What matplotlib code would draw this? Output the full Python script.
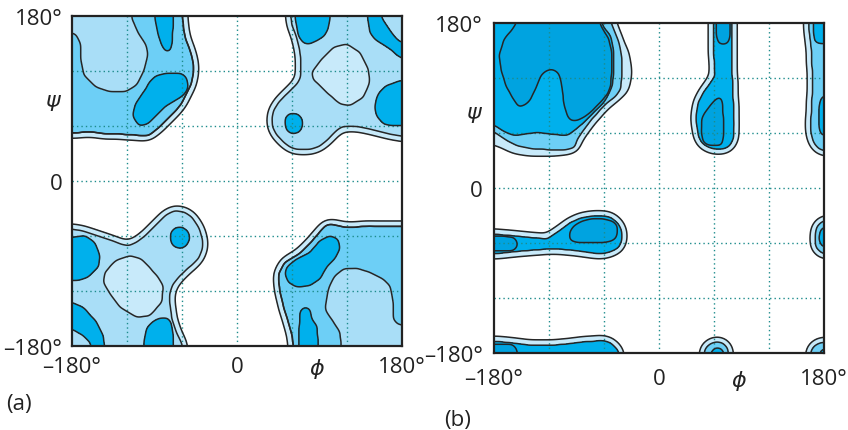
import numpy as np
import matplotlib
matplotlib.use("Agg")
import matplotlib.pyplot as plt
from matplotlib.path import Path

plt.rcParams['font.family'] = ['Open Sans', 'DejaVu Sans']
plt.rcParams['mathtext.fontset'] = 'dejavusans'

# ---------------- data ----------------
phi_ticks = [-180, 0, 87, 180]
phi_labels = ['\u2013180\u00b0', '0', r'$\phi$', '180\u00b0']
psi_ticks_a = [-180, 0, 90, 180]
psi_ticks_b = [-180, 0, 85, 180]
psi_labels = ['\u2013180\u00b0', '0', r'$\psi$', '180\u00b0']
grid_values = [-120, -60, 0, 60, 120]
panel_names = ['(a)', '(b)']

# Region outlines (phi, psi) in degrees.
# ----- panel (a) -----
a_ul_region = [(-185, 185), (-60, 185), (-58, 165), (-56, 155), (-52, 145), (-49, 135), (-47, 125),
               (-48, 115), (-50, 105), (-55, 95), (-60, 85), (-68, 75), (-78, 65), (-88, 56),
               (-97, 49), (-110, 50), (-125, 51), (-140, 51), (-155, 53), (-170, 53), (-185, 52)]
a_ul_light = [(-185, 185), (-114, 185), (-115, 178), (-108, 162), (-99, 148), (-97, 138), (-101, 122),
              (-109, 105), (-122, 97), (-138, 97), (-155, 103), (-167, 115), (-170, 130),
              (-171, 150), (-176, 160), (-185, 163)]
a_ul_dark1 = [(-90, 185), (-89, 175), (-86, 160), (-82, 148), (-78, 141), (-73, 142), (-71, 150),
              (-70, 165), (-69, 185)]
a_ul_dark2 = [(-60, 117), (-55, 113), (-53, 102), (-57, 95), (-62, 91), (-77, 82), (-88, 71),
              (-98, 62), (-107, 60), (-114, 71), (-111, 84), (-100, 100), (-95, 109), (-88, 115),
              (-77, 117.5)]
a_ur_region = [(58, 185), (60, 170), (65, 157), (68, 145), (70, 130), (70, 115), (66, 106), (60, 100),
               (52, 93), (45, 85), (40, 77), (38, 68), (39, 59), (43, 51), (50, 43), (58, 37),
               (67, 34), (79, 34), (90, 38), (100, 46), (108, 55), (114, 59), (124, 60), (134, 59),
               (150, 55.5), (165, 51.5), (185, 48), (185, 185)]
a_ur_hole = [(81.5, 118.6), (90, 130), (105, 145.8), (119.7, 149.5), (134, 140.4), (143.2, 122.2),
             (145, 107.7), (137.8, 91.3), (123.3, 82.2), (112.4, 84), (97.8, 96.8), (83.2, 110.7)]
a_ur_dark1 = [(63, 185), (64, 175), (67, 158.5), (72, 151), (78, 149), (87, 153), (95, 158),
              (99, 165), (101.5, 176.7), (102, 185)]
a_ur_dark2 = [(142, 185), (143, 175), (145, 162), (150, 155), (156, 151), (167, 144), (175, 137),
              (185, 131), (185, 151), (178, 151.5), (170, 160), (163, 170), (158, 178), (157, 185)]
a_ur_dark3 = [(185, 110), (178, 109.5), (163, 104), (155, 96), (152.4, 91), (150.5, 82),
              (151.5, 72), (159.6, 62.2), (170, 60), (185, 60)]
a_ur_dark4 = [(53, 70), (58, 74), (66, 73.5), (71, 68), (72, 60), (68, 53), (60, 51), (54, 55), (52, 63)]
a_ll_region = [(-185, -52), (-170, -54), (-157, -58), (-145, -62), (-135, -65.5), (-125, -69.5),
               (-118, -70.5), (-110, -67), (-102, -61), (-92, -51), (-84, -43), (-76, -36),
               (-68, -32.5), (-58, -33.5), (-49, -39.5), (-41, -52), (-37, -66), (-38, -75),
               (-42, -85), (-52, -94), (-62, -103), (-70, -113), (-73, -122), (-73, -135),
               (-71, -150), (-66, -165), (-60, -178), (-58, -185), (-185, -185)]
a_ll_hole = [(-144, -99.6), (-133, -87), (-116.7, -81.5), (-104, -85), (-87.6, -103), (-80.4, -114),
             (-82, -132), (-95, -147), (-109.4, -148.7), (-127.6, -137.8), (-138.5, -123),
             (-146, -110.5)]
a_ll_dark1 = [(-185, -61.4), (-180, -61.4), (-166, -59.6), (-155, -67), (-149.5, -81.5),
              (-151, -94), (-162, -105), (-175, -109), (-185, -109)]
a_ll_dark2 = [(-185, -132.4), (-180, -132.4), (-167.6, -137.8), (-153, -154), (-146, -168.8),
              (-144, -185), (-158.5, -185), (-160, -177), (-167.6, -168.8), (-180, -161.5),
              (-185, -161.5)]
a_ll_dark3 = [(-102, -185), (-102, -178), (-98.5, -160), (-92, -153), (-84, -149.5), (-76, -149),
              (-72, -154), (-70, -165), (-69, -185)]
a_ll_dark4 = [(-73, -57), (-68, -51), (-60, -50), (-53, -55), (-51, -63), (-55, -71), (-62, -74),
              (-70, -71), (-73, -64)]
a_lr_region = [(185, -50), (145, -49), (120, -51), (102, -47), (96, -49), (84, -63), (70, -78),
               (52, -89), (46, -100), (45.5, -110), (47, -121), (51, -138), (56, -154), (60, -168),
               (62, -185), (185, -185)]
a_lr_light = [(96, -139.6), (99.7, -117.8), (106, -104), (116, -96), (130, -95), (145, -99.6),
              (158, -106), (167, -114), (170, -130), (170.5, -150.5), (175, -156), (185, -158),
              (185, -185), (114, -185), (112.4, -165), (104, -152), (97.8, -143)]
a_lr_dark1 = [(54, -94), (65, -85), (79.6, -77.8), (90.5, -65), (101.5, -59.7), (110.5, -63.3),
              (112.4, -74), (107, -85), (97.8, -94), (90.5, -107), (79.6, -114), (65, -116),
              (56, -110.5), (52.4, -101.5)]
a_lr_dark2 = [(67, -185), (67, -178), (68.7, -143), (71, -139), (74, -137.8), (78, -138.5),
              (80, -141), (81.5, -150.5), (87, -157.8), (88.7, -178), (89, -185)]

# ----- panel (b) -----
b_tl_pale = [(-185, 185), (-56, 185), (-47, 162), (-38.5, 148), (-35, 126), (-38.5, 108), (-48, 100),
             (-60, 93), (-76, 73), (-89, 54), (-96, 45), (-110, 41), (-122, 40), (-140, 40.5),
             (-157, 43), (-172, 50), (-185, 55)]
b_tl_medium = [(-185, 185), (-54, 185), (-48, 170), (-43.6, 159), (-41, 145), (-40, 130),
               (-41.8, 108), (-47, 100), (-56, 93.5), (-66, 83), (-74.5, 73.5), (-83, 62),
               (-89, 53.5), (-92, 44), (-100, 42), (-120, 41.8), (-140, 43), (-155, 46),
               (-168, 53), (-180, 61), (-185, 61)]
b_tl_dark = [(-185, 185), (-64, 185), (-60, 175), (-52.7, 166), (-49, 148), (-49, 130),
             (-51, 111.6), (-55, 102), (-60, 93.5), (-70, 84), (-78, 75.3), (-86, 68),
             (-92.7, 62.5), (-100, 57), (-115, 58.5), (-132.7, 60.7), (-145, 59), (-158, 57),
             (-170, 62), (-180, 68.7), (-185, 69)]
b_tl_core = [(-152.7, 185), (-160, 173), (-169, 162.5), (-174.5, 144.4), (-172, 128), (-167, 111.6),
             (-160, 99), (-152.7, 88), (-146, 91), (-140, 97), (-134, 110), (-129, 122.5),
             (-123, 128), (-116.4, 129.8), (-110, 126), (-107.3, 118.9), (-105, 104),
             (-103.6, 89.8), (-100, 79), (-96.4, 73.5), (-89, 74), (-81.8, 77.1), (-72, 85),
             (-63.6, 93.5), (-56, 103), (-52.7, 111.6), (-51.5, 130), (-51.5, 148), (-55, 163),
             (-63.6, 177), (-66, 185)]
b_mid_dark = [(59.3, 185), (59.5, 150), (61.1, 122.5), (55, 113), (48.4, 104.4), (43, 94), (41, 82.5),
              (41, 70), (42.9, 57), (47, 49), (53.8, 44.4), (62, 42), (70.2, 42.5), (77, 46),
              (81.1, 53.5), (82, 70), (81.1, 93.5), (80, 120), (79.3, 150), (79, 185)]
b_mid_cap = [(63, 185), (63, 165), (65, 158), (70, 156.5), (75, 158), (77.5, 165), (77.5, 185)]
b_mid_core = [(66.5, 100), (60, 95), (55.6, 89.8), (50, 82), (46.5, 75.3), (46, 62), (48.4, 49.8),
              (54, 47), (59.3, 46.9), (68.4, 46.9), (70, 55), (70.2, 75.3), (69.5, 90), (68.4, 97)]
b_r_medium = [(185, 185), (163, 185), (164, 170), (166.5, 148), (167.6, 111.6), (165.8, 75.3),
              (166, 60), (168.4, 49.8), (174, 43), (180, 40.7), (185, 40.7)]
b_r_cap = [(185, 185), (168.4, 185), (168.4, 170), (170, 160), (175, 157), (185, 157)]
b_r_sliver = [(185, 101), (179, 100.7), (175.5, 95), (174.9, 89.8), (174.9, 64.4), (176.5, 59),
              (179.3, 57), (185, 57)]
b_s_dark = [(-185, -50), (-160, -52), (-140, -54), (-121.8, -55.6), (-108, -46), (-96.4, -37.5),
            (-85, -32.5), (-71, -30.2), (-60, -30.5), (-52.7, -32), (-44, -39), (-40, -48.4),
            (-40.5, -57), (-43.6, -64.7), (-52, -69.5), (-63.6, -72), (-75, -70.5), (-89, -68.4),
            (-105, -67), (-121.8, -66.5), (-140, -68), (-158, -69.5), (-180, -72), (-185, -72)]
b_s_core1 = [(-98, -48.4), (-92.7, -41), (-85, -36.5), (-74.5, -33.8), (-60, -33.8), (-50, -36.5),
             (-45.5, -41), (-45, -48), (-47.3, -55.6), (-53, -58.5), (-60, -59.3), (-75, -59.5),
             (-89, -59.3), (-95, -58), (-98, -55.6)]
b_s_core2 = [(-185, -52), (-170, -52.5), (-158, -54), (-155, -58), (-154.5, -64), (-158, -68),
             (-170, -69), (-185, -69)]
b_rb_medium = [(185, -35.6), (180, -35.6), (175, -39), (172, -43), (170.5, -50), (170, -55.6),
               (170.5, -62), (173, -67), (178, -71.5), (185, -72)]
b_rb_dark = [(185, -43), (180, -43), (177, -45), (175.6, -46.6), (174.9, -52), (174.9, -57.5),
             (176.5, -62), (180, -64.7), (185, -64.7)]
b_bl_dark = [(-185, -166.5), (-160, -169), (-140, -171.5), (-121.8, -172), (-100, -170),
             (-80, -167.5), (-60, -166.5), (-52, -169), (-45.5, -175.6), (-42, -185), (-185, -185)]
b_bl_core = [(-185, -170), (-160, -170.5), (-156, -174), (-154.5, -179), (-154.5, -185), (-185, -185)]
b_bm_medium = [(49, -185), (50, -176), (55, -170), (62.5, -167.6), (70, -169), (75, -175), (76.4, -185)]
b_bm_dark = [(56, -185), (57, -178), (62, -174), (67, -174.5), (70.5, -178), (71, -185)]
b_br_medium = [(165.5, -185), (166, -177), (170, -171.5), (175, -169), (180, -168), (185, -168),
               (185, -185)]
b_br_dark = [(174.5, -185), (175.5, -178), (180, -175), (185, -175), (185, -185)]

# ---------------- styles ----------------
PALE = '#c8eafa'
LIGHT = '#a9def7'
MED = '#6dcff6'
DARK = '#00b0ec'
DARKER = '#00a3e0'
LINE = '#262626'
GRIDC = '#1d8c8c'

a_regions = [a_ul_region, a_ur_region, a_ll_region, a_lr_region]
layers_a = [  # (outlines, fill colour, expand band?)
    (a_regions, PALE, True),
    (a_regions, LIGHT, False),
    ([a_ul_region, a_lr_region], MED, False),
    ([a_ul_dark1, a_ul_dark2, a_ur_dark1, a_ur_dark2, a_ur_dark3, a_ur_dark4,
      a_ll_dark1, a_ll_dark2, a_ll_dark3, a_ll_dark4, a_lr_dark1, a_lr_dark2], DARK, False),
    ([a_ur_hole, a_ll_hole], PALE, False),
    ([a_ul_light, a_lr_light], LIGHT, False),
]
b_all = [b_tl_pale, b_tl_medium, b_tl_dark, b_mid_dark, b_r_medium, b_s_dark, b_rb_medium,
         b_bl_dark, b_bm_medium, b_br_medium]
layers_b = [
    (b_all, PALE, True),
    ([b_tl_medium, b_r_medium, b_rb_medium, b_bm_medium, b_br_medium], MED, False),
    ([b_tl_dark, b_mid_dark, b_r_cap, b_r_sliver, b_s_dark, b_rb_dark, b_bl_dark, b_bm_dark,
      b_br_dark], DARK, False),
    ([b_tl_core, b_mid_cap, b_mid_core, b_s_core1, b_s_core2, b_bl_core], DARKER, False),
]

NF = 361
XS = np.linspace(-180, 180, NF)
YS = np.linspace(-180, 180, NF)
GX, GY = np.meshgrid(XS, YS)
PTS = np.column_stack([GX.ravel(), GY.ravel()])


def blur(f, sigma):
    r = int(3 * sigma) + 1
    u = np.arange(-r, r + 1)
    k = np.exp(-0.5 * (u / sigma) ** 2)
    k /= k.sum()
    f = np.pad(f, r, mode='edge')
    f = np.apply_along_axis(lambda v: np.convolve(v, k, mode='valid'), 0, f)
    f = np.apply_along_axis(lambda v: np.convolve(v, k, mode='valid'), 1, f)
    return f


def raster(polys):
    m = np.zeros(len(PTS), bool)
    for p in polys:
        m |= Path(p).contains_points(PTS)
    return m.reshape(GX.shape).astype(float)


def draw_panel(ax, layers):
    fields = []
    for polys, col, expand in layers:
        m = raster(polys)
        if expand:
            f, thr = blur(m, 5.0), 0.12
        else:
            f, thr = blur(m, 2.5), 0.5
        ax.contourf(XS, YS, f, levels=[thr, 2], colors=[col], zorder=1)
        fields.append((f, thr))
    for f, thr in fields:
        ax.contour(XS, YS, f, levels=[thr], colors=LINE, linewidths=1.1, zorder=3)
    for g in grid_values:
        ax.axvline(g, color=GRIDC, lw=1.0, ls=(0, (1, 2.2)), zorder=2)
        ax.axhline(g, color=GRIDC, lw=1.0, ls=(0, (1, 2.2)), zorder=2)
    ax.set_xlim(-180, 180)
    ax.set_ylim(-180, 180)
    for s in ax.spines.values():
        s.set_color('#222222')
        s.set_linewidth(1.6)
        s.set_zorder(5)


fig = plt.figure(figsize=(8.48, 4.31), dpi=100)
ax_a = fig.add_axes([72 / 848, 1 - 347 / 431, 330 / 848, 330 / 431])
ax_b = fig.add_axes([494 / 848, 1 - 354 / 431, 330 / 848, 330 / 431])

draw_panel(ax_a, layers_a)
draw_panel(ax_b, layers_b)

for ax, psi_ticks, xpad, ypad in [(ax_a, psi_ticks_a, 7, 7), (ax_b, psi_ticks_b, 11, 8)]:
    ax.set_xticks(phi_ticks)
    ax.set_xticklabels(phi_labels)
    ax.set_yticks(psi_ticks)
    ax.set_yticklabels(psi_labels)
    ax.tick_params(axis='x', length=0, labelsize=16, pad=xpad, colors='#222222')
    ax.tick_params(axis='y', length=0, labelsize=16, pad=ypad, colors='#222222')

fig.text(19 / 848, 1 - 405 / 431, panel_names[0], fontsize=16, ha='center', va='center', color='#222222')
fig.text(458 / 848, 1 - 421 / 431, panel_names[1], fontsize=16, ha='center', va='center', color='#222222')

fig.savefig('out.png', dpi=100)
